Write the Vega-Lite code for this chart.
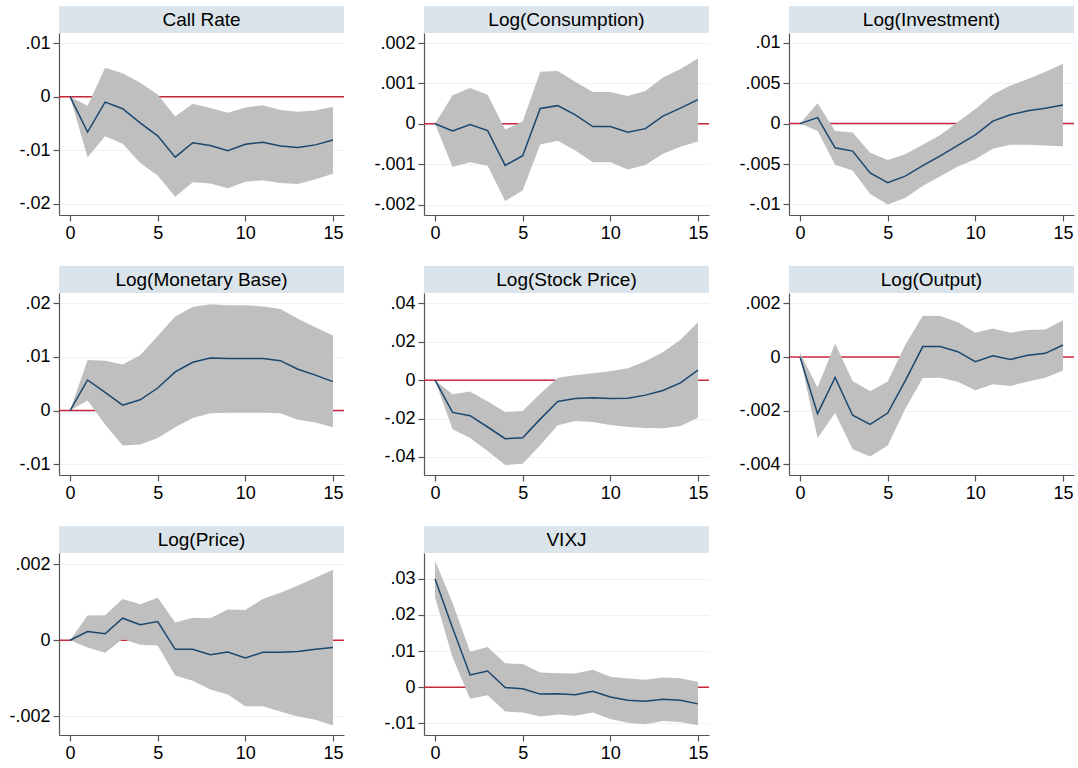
{
  "$schema": "https://vega.github.io/schema/vega-lite/v6.json",
  "padding": {"left": 7, "top": 6, "right": 0, "bottom": 0},
  "background": "white",
  "columns": 3,
  "spacing": {"row": 0, "column": 27},
  "align": "each",
  "bounds": "full",
  "datasets": {
    "cr": [
      {"h":0,"m":0,"lo":0,"hi":0},{"h":1,"m":-0.0066,"lo":-0.0113,"hi":-0.0017},{"h":2,"m":-0.001,"lo":-0.0074,"hi":0.0054},{"h":3,"m":-0.00225,"lo":-0.0088,"hi":0.0044},{"h":4,"m":-0.0049,"lo":-0.0124,"hi":0.0026},{"h":5,"m":-0.0073,"lo":-0.0147,"hi":0.0004},{"h":6,"m":-0.0113,"lo":-0.0187,"hi":-0.0037},{"h":7,"m":-0.0086,"lo":-0.016,"hi":-0.0013},{"h":8,"m":-0.0091,"lo":-0.0162,"hi":-0.0021},{"h":9,"m":-0.0101,"lo":-0.0171,"hi":-0.003},{"h":10,"m":-0.0089,"lo":-0.0159,"hi":-0.002},{"h":11,"m":-0.0085,"lo":-0.0156,"hi":-0.0016},{"h":12,"m":-0.0092,"lo":-0.0161,"hi":-0.0025},{"h":13,"m":-0.0095,"lo":-0.0163,"hi":-0.0028},{"h":14,"m":-0.009,"lo":-0.0154,"hi":-0.0026},{"h":15,"m":-0.0081,"lo":-0.0144,"hi":-0.0019}
    ],
    "cons": [
      {"h":0,"m":0,"lo":0,"hi":0},{"h":1,"m":-0.00018,"lo":-0.00107,"hi":0.00071},{"h":2,"m":-0.00002,"lo":-0.00095,"hi":0.00089},{"h":3,"m":-0.00017,"lo":-0.00104,"hi":0.00072},{"h":4,"m":-0.00103,"lo":-0.00191,"hi":-0.00014},{"h":5,"m":-0.00079,"lo":-0.00165,"hi":0.00006},{"h":6,"m":0.00038,"lo":-0.00051,"hi":0.00129},{"h":7,"m":0.00045,"lo":-0.00042,"hi":0.00131},{"h":8,"m":0.00022,"lo":-0.00066,"hi":0.00104},{"h":9,"m":-0.00007,"lo":-0.00095,"hi":0.00079},{"h":10,"m":-0.00007,"lo":-0.00095,"hi":0.00079},{"h":11,"m":-0.00021,"lo":-0.00113,"hi":0.00069},{"h":12,"m":-0.00012,"lo":-0.00102,"hi":0.00081},{"h":13,"m":0.00019,"lo":-0.00074,"hi":0.00115},{"h":14,"m":0.00039,"lo":-0.00057,"hi":0.00136},{"h":15,"m":0.0006,"lo":-0.00044,"hi":0.00162}
    ],
    "inv": [
      {"h":0,"m":0,"lo":0,"hi":0},{"h":1,"m":0.00074,"lo":-0.0009,"hi":0.0025},{"h":2,"m":-0.003,"lo":-0.0051,"hi":-0.0009},{"h":3,"m":-0.0034,"lo":-0.0058,"hi":-0.0011},{"h":4,"m":-0.0061,"lo":-0.0087,"hi":-0.0036},{"h":5,"m":-0.0073,"lo":-0.01,"hi":-0.0045},{"h":6,"m":-0.0065,"lo":-0.0092,"hi":-0.0038},{"h":7,"m":-0.0052,"lo":-0.0077,"hi":-0.0026},{"h":8,"m":-0.004,"lo":-0.0065,"hi":-0.0014},{"h":9,"m":-0.0027,"lo":-0.0053,"hi":0.0002},{"h":10,"m":-0.0014,"lo":-0.0044,"hi":0.0018},{"h":11,"m":0.0003,"lo":-0.0031,"hi":0.0036},{"h":12,"m":0.0011,"lo":-0.0026,"hi":0.0047},{"h":13,"m":0.0016,"lo":-0.0026,"hi":0.0055},{"h":14,"m":0.0019,"lo":-0.0027,"hi":0.0064},{"h":15,"m":0.0023,"lo":-0.0028,"hi":0.0074}
    ],
    "mb": [
      {"h":0,"m":0,"lo":0,"hi":0},{"h":1,"m":0.0057,"lo":0.0019,"hi":0.0094},{"h":2,"m":0.0034,"lo":-0.0026,"hi":0.0093},{"h":3,"m":0.001,"lo":-0.0065,"hi":0.0086},{"h":4,"m":0.002,"lo":-0.0063,"hi":0.0103},{"h":5,"m":0.0042,"lo":-0.0051,"hi":0.0139},{"h":6,"m":0.0072,"lo":-0.0031,"hi":0.0175},{"h":7,"m":0.009,"lo":-0.0014,"hi":0.0193},{"h":8,"m":0.0098,"lo":-0.0005,"hi":0.0198},{"h":9,"m":0.0097,"lo":-0.0004,"hi":0.0196},{"h":10,"m":0.0097,"lo":-0.0004,"hi":0.0196},{"h":11,"m":0.0097,"lo":-0.0004,"hi":0.0194},{"h":12,"m":0.0093,"lo":-0.0005,"hi":0.0189},{"h":13,"m":0.0077,"lo":-0.0017,"hi":0.0171},{"h":14,"m":0.0066,"lo":-0.0022,"hi":0.0155},{"h":15,"m":0.0054,"lo":-0.0031,"hi":0.014}
    ],
    "sp": [
      {"h":0,"m":0,"lo":0,"hi":0},{"h":1,"m":-0.0168,"lo":-0.0256,"hi":-0.0074},{"h":2,"m":-0.0185,"lo":-0.0301,"hi":-0.0059},{"h":3,"m":-0.0244,"lo":-0.0369,"hi":-0.0111},{"h":4,"m":-0.0305,"lo":-0.0442,"hi":-0.0166},{"h":5,"m":-0.03,"lo":-0.0436,"hi":-0.0161},{"h":6,"m":-0.0203,"lo":-0.0339,"hi":-0.0071},{"h":7,"m":-0.0111,"lo":-0.0235,"hi":0.0012},{"h":8,"m":-0.0095,"lo":-0.0213,"hi":0.0026},{"h":9,"m":-0.0092,"lo":-0.0218,"hi":0.0036},{"h":10,"m":-0.0095,"lo":-0.0234,"hi":0.0047},{"h":11,"m":-0.0094,"lo":-0.0244,"hi":0.0062},{"h":12,"m":-0.0078,"lo":-0.0249,"hi":0.0099},{"h":13,"m":-0.0054,"lo":-0.0251,"hi":0.0145},{"h":14,"m":-0.0014,"lo":-0.0239,"hi":0.0211},{"h":15,"m":0.0052,"lo":-0.0196,"hi":0.0301}
    ],
    "out": [
      {"h":0,"m":0,"lo":0,"hi":0.00015},{"h":1,"m":-0.00211,"lo":-0.00303,"hi":-0.00114},{"h":2,"m":-0.00076,"lo":-0.00209,"hi":0.00051},{"h":3,"m":-0.00217,"lo":-0.00344,"hi":-0.00089},{"h":4,"m":-0.00251,"lo":-0.00371,"hi":-0.00128},{"h":5,"m":-0.00209,"lo":-0.0033,"hi":-0.00091},{"h":6,"m":-0.00089,"lo":-0.00194,"hi":0.00045},{"h":7,"m":0.00039,"lo":-0.00078,"hi":0.00154},{"h":8,"m":0.00039,"lo":-0.00077,"hi":0.00153},{"h":9,"m":0.0002,"lo":-0.00092,"hi":0.0013},{"h":10,"m":-0.00017,"lo":-0.00124,"hi":0.00091},{"h":11,"m":0.00005,"lo":-0.00101,"hi":0.00107},{"h":12,"m":-0.00009,"lo":-0.00108,"hi":0.00091},{"h":13,"m":0.00007,"lo":-0.00091,"hi":0.00101},{"h":14,"m":0.00014,"lo":-0.00077,"hi":0.00103},{"h":15,"m":0.00045,"lo":-0.0005,"hi":0.00137}
    ],
    "pr": [
      {"h":0,"m":0,"lo":0,"hi":0},{"h":1,"m":0.00023,"lo":-0.00019,"hi":0.00065},{"h":2,"m":0.00017,"lo":-0.00033,"hi":0.00066},{"h":3,"m":0.00058,"lo":0.00003,"hi":0.00109},{"h":4,"m":0.00041,"lo":-0.00012,"hi":0.00095},{"h":5,"m":0.00049,"lo":-0.00014,"hi":0.00112},{"h":6,"m":-0.00024,"lo":-0.00093,"hi":0.00047},{"h":7,"m":-0.00024,"lo":-0.00107,"hi":0.00059},{"h":8,"m":-0.00038,"lo":-0.0013,"hi":0.00058},{"h":9,"m":-0.00031,"lo":-0.00143,"hi":0.00081},{"h":10,"m":-0.00047,"lo":-0.00174,"hi":0.0008},{"h":11,"m":-0.00032,"lo":-0.00174,"hi":0.00109},{"h":12,"m":-0.00032,"lo":-0.00188,"hi":0.00125},{"h":13,"m":-0.0003,"lo":-0.00201,"hi":0.00144},{"h":14,"m":-0.00024,"lo":-0.0021,"hi":0.00165},{"h":15,"m":-0.00019,"lo":-0.00225,"hi":0.00186}
    ],
    "vix": [
      {"h":0,"m":0.0299,"lo":0.0249,"hi":0.035},{"h":1,"m":0.0164,"lo":0.0082,"hi":0.0233},{"h":2,"m":0.0034,"lo":-0.0032,"hi":0.0098},{"h":3,"m":0.0045,"lo":-0.0022,"hi":0.0111},{"h":4,"m":-0.0001,"lo":-0.0067,"hi":0.0066},{"h":5,"m":-0.0004,"lo":-0.007,"hi":0.0064},{"h":6,"m":-0.0019,"lo":-0.0081,"hi":0.0041},{"h":7,"m":-0.0018,"lo":-0.0075,"hi":0.0039},{"h":8,"m":-0.0021,"lo":-0.0079,"hi":0.0038},{"h":9,"m":-0.0011,"lo":-0.007,"hi":0.0048},{"h":10,"m":-0.0027,"lo":-0.0088,"hi":0.0029},{"h":11,"m":-0.0036,"lo":-0.0098,"hi":0.0024},{"h":12,"m":-0.0039,"lo":-0.0102,"hi":0.0021},{"h":13,"m":-0.0033,"lo":-0.0093,"hi":0.0027},{"h":14,"m":-0.0036,"lo":-0.0096,"hi":0.0025},{"h":15,"m":-0.0046,"lo":-0.0105,"hi":0.0015}
    ]
  },
  "concat": [
    {"width":285,"height":27,"view":{"fill":"#dae4ea","stroke":null},"data":{"values":[{"t":"Call Rate"}]},"mark":{"type":"text","fontSize":19,"font":"Liberation Sans","color":"#000","baseline":"middle"},"encoding":{"text":{"field":"t"},"x":{"datum":0,"type":"quantitative","scale":{"domain":[-1,1]},"axis":null},"y":{"datum":0,"type":"quantitative","scale":{"domain":[-1,1]},"axis":{"labels":false,"ticks":false,"domain":false,"grid":false,"title":null,"minExtent":52}}}},
    {"width":285,"height":27,"view":{"fill":"#dae4ea","stroke":null},"data":{"values":[{"t":"Log(Consumption)"}]},"mark":{"type":"text","fontSize":19,"font":"Liberation Sans","color":"#000","baseline":"middle"},"encoding":{"text":{"field":"t"},"x":{"datum":0,"type":"quantitative","scale":{"domain":[-1,1]},"axis":null},"y":{"datum":0,"type":"quantitative","scale":{"domain":[-1,1]},"axis":{"labels":false,"ticks":false,"domain":false,"grid":false,"title":null,"minExtent":52}}}},
    {"width":285,"height":27,"view":{"fill":"#dae4ea","stroke":null},"data":{"values":[{"t":"Log(Investment)"}]},"mark":{"type":"text","fontSize":19,"font":"Liberation Sans","color":"#000","baseline":"middle"},"encoding":{"text":{"field":"t"},"x":{"datum":0,"type":"quantitative","scale":{"domain":[-1,1]},"axis":null},"y":{"datum":0,"type":"quantitative","scale":{"domain":[-1,1]},"axis":{"labels":false,"ticks":false,"domain":false,"grid":false,"title":null,"minExtent":52}}}},

    {"width":285,"height":182,"view":{"stroke":null},"layer":[
      {"data":{"values":[{}]},"mark":{"type":"rule","color":"#c8283c","strokeWidth":1.5},"encoding":{"y":{"datum":0,"type":"quantitative"}}},
      {"data":{"name":"cr"},"mark":{"type":"area","color":"#bfbfbf","opacity":1},"encoding":{"x":{"field":"h","type":"quantitative","scale":{"domain":[-0.63,15.63],"nice":false,"zero":false},"axis":{"values":[0,5,10,15],"title":null,"grid":false,"minExtent":51}},"y":{"field":"lo","type":"quantitative","scale":{"domain":[-0.0221,0.0119],"nice":false,"zero":false},"axis":{"values":[-0.02,-0.01,0,0.01],"title":null,"minExtent":52,"labelExpr":"datum.value == 0 ? '0' : (datum.value < 0 ? '-' : '') + replace(format(abs(datum.value), '~g'), '0.', '.')"}},"y2":{"field":"hi"}}},
      {"data":{"name":"cr"},"mark":{"type":"line","color":"#1a476f","strokeWidth":1.5},"encoding":{"x":{"field":"h","type":"quantitative"},"y":{"field":"m","type":"quantitative"}}}
    ]},
    {"width":285,"height":182,"view":{"stroke":null},"layer":[
      {"data":{"values":[{}]},"mark":{"type":"rule","color":"#c8283c","strokeWidth":1.5},"encoding":{"y":{"datum":0,"type":"quantitative"}}},
      {"data":{"name":"cons"},"mark":{"type":"area","color":"#bfbfbf","opacity":1},"encoding":{"x":{"field":"h","type":"quantitative","scale":{"domain":[-0.63,15.63],"nice":false,"zero":false},"axis":{"values":[0,5,10,15],"title":null,"grid":false,"minExtent":51}},"y":{"field":"lo","type":"quantitative","scale":{"domain":[-0.00226,0.00225],"nice":false,"zero":false},"axis":{"values":[-0.002,-0.001,0,0.001,0.002],"title":null,"minExtent":52,"labelExpr":"datum.value == 0 ? '0' : (datum.value < 0 ? '-' : '') + replace(format(abs(datum.value), '~g'), '0.', '.')"}},"y2":{"field":"hi"}}},
      {"data":{"name":"cons"},"mark":{"type":"line","color":"#1a476f","strokeWidth":1.5},"encoding":{"x":{"field":"h","type":"quantitative"},"y":{"field":"m","type":"quantitative"}}}
    ]},
    {"width":285,"height":182,"view":{"stroke":null},"layer":[
      {"data":{"values":[{}]},"mark":{"type":"rule","color":"#c8283c","strokeWidth":1.5},"encoding":{"y":{"datum":0,"type":"quantitative"}}},
      {"data":{"name":"inv"},"mark":{"type":"area","color":"#bfbfbf","opacity":1},"encoding":{"x":{"field":"h","type":"quantitative","scale":{"domain":[-0.63,15.63],"nice":false,"zero":false},"axis":{"values":[0,5,10,15],"title":null,"grid":false,"minExtent":51}},"y":{"field":"lo","type":"quantitative","scale":{"domain":[-0.0113,0.0112],"nice":false,"zero":false},"axis":{"values":[-0.01,-0.005,0,0.005,0.01],"title":null,"minExtent":52,"labelExpr":"datum.value == 0 ? '0' : (datum.value < 0 ? '-' : '') + replace(format(abs(datum.value), '~g'), '0.', '.')"}},"y2":{"field":"hi"}}},
      {"data":{"name":"inv"},"mark":{"type":"line","color":"#1a476f","strokeWidth":1.5},"encoding":{"x":{"field":"h","type":"quantitative"},"y":{"field":"m","type":"quantitative"}}}
    ]},

    {"width":285,"height":27,"view":{"fill":"#dae4ea","stroke":null},"data":{"values":[{"t":"Log(Monetary Base)"}]},"mark":{"type":"text","fontSize":19,"font":"Liberation Sans","color":"#000","baseline":"middle"},"encoding":{"text":{"field":"t"},"x":{"datum":0,"type":"quantitative","scale":{"domain":[-1,1]},"axis":null},"y":{"datum":0,"type":"quantitative","scale":{"domain":[-1,1]},"axis":{"labels":false,"ticks":false,"domain":false,"grid":false,"title":null,"minExtent":52}}}},
    {"width":285,"height":27,"view":{"fill":"#dae4ea","stroke":null},"data":{"values":[{"t":"Log(Stock Price)"}]},"mark":{"type":"text","fontSize":19,"font":"Liberation Sans","color":"#000","baseline":"middle"},"encoding":{"text":{"field":"t"},"x":{"datum":0,"type":"quantitative","scale":{"domain":[-1,1]},"axis":null},"y":{"datum":0,"type":"quantitative","scale":{"domain":[-1,1]},"axis":{"labels":false,"ticks":false,"domain":false,"grid":false,"title":null,"minExtent":52}}}},
    {"width":285,"height":27,"view":{"fill":"#dae4ea","stroke":null},"data":{"values":[{"t":"Log(Output)"}]},"mark":{"type":"text","fontSize":19,"font":"Liberation Sans","color":"#000","baseline":"middle"},"encoding":{"text":{"field":"t"},"x":{"datum":0,"type":"quantitative","scale":{"domain":[-1,1]},"axis":null},"y":{"datum":0,"type":"quantitative","scale":{"domain":[-1,1]},"axis":{"labels":false,"ticks":false,"domain":false,"grid":false,"title":null,"minExtent":52}}}},

    {"width":285,"height":182,"view":{"stroke":null},"layer":[
      {"data":{"values":[{}]},"mark":{"type":"rule","color":"#c8283c","strokeWidth":1.5},"encoding":{"y":{"datum":0,"type":"quantitative"}}},
      {"data":{"name":"mb"},"mark":{"type":"area","color":"#bfbfbf","opacity":1},"encoding":{"x":{"field":"h","type":"quantitative","scale":{"domain":[-0.63,15.63],"nice":false,"zero":false},"axis":{"values":[0,5,10,15],"title":null,"grid":false,"minExtent":51}},"y":{"field":"lo","type":"quantitative","scale":{"domain":[-0.012,0.0219],"nice":false,"zero":false},"axis":{"values":[-0.01,0,0.01,0.02],"title":null,"minExtent":52,"labelExpr":"datum.value == 0 ? '0' : (datum.value < 0 ? '-' : '') + replace(format(abs(datum.value), '~g'), '0.', '.')"}},"y2":{"field":"hi"}}},
      {"data":{"name":"mb"},"mark":{"type":"line","color":"#1a476f","strokeWidth":1.5},"encoding":{"x":{"field":"h","type":"quantitative"},"y":{"field":"m","type":"quantitative"}}}
    ]},
    {"width":285,"height":182,"view":{"stroke":null},"layer":[
      {"data":{"values":[{}]},"mark":{"type":"rule","color":"#c8283c","strokeWidth":1.5},"encoding":{"y":{"datum":0,"type":"quantitative"}}},
      {"data":{"name":"sp"},"mark":{"type":"area","color":"#bfbfbf","opacity":1},"encoding":{"x":{"field":"h","type":"quantitative","scale":{"domain":[-0.63,15.63],"nice":false,"zero":false},"axis":{"values":[0,5,10,15],"title":null,"grid":false,"minExtent":51}},"y":{"field":"lo","type":"quantitative","scale":{"domain":[-0.0494,0.0454],"nice":false,"zero":false},"axis":{"values":[-0.04,-0.02,0,0.02,0.04],"title":null,"minExtent":52,"labelExpr":"datum.value == 0 ? '0' : (datum.value < 0 ? '-' : '') + replace(format(abs(datum.value), '~g'), '0.', '.')"}},"y2":{"field":"hi"}}},
      {"data":{"name":"sp"},"mark":{"type":"line","color":"#1a476f","strokeWidth":1.5},"encoding":{"x":{"field":"h","type":"quantitative"},"y":{"field":"m","type":"quantitative"}}}
    ]},
    {"width":285,"height":182,"view":{"stroke":null},"layer":[
      {"data":{"values":[{}]},"mark":{"type":"rule","color":"#c8283c","strokeWidth":1.5},"encoding":{"y":{"datum":0,"type":"quantitative"}}},
      {"data":{"name":"out"},"mark":{"type":"area","color":"#bfbfbf","opacity":1},"encoding":{"x":{"field":"h","type":"quantitative","scale":{"domain":[-0.63,15.63],"nice":false,"zero":false},"axis":{"values":[0,5,10,15],"title":null,"grid":false,"minExtent":51}},"y":{"field":"lo","type":"quantitative","scale":{"domain":[-0.0044,0.00239],"nice":false,"zero":false},"axis":{"values":[-0.004,-0.002,0,0.002],"title":null,"minExtent":52,"labelExpr":"datum.value == 0 ? '0' : (datum.value < 0 ? '-' : '') + replace(format(abs(datum.value), '~g'), '0.', '.')"}},"y2":{"field":"hi"}}},
      {"data":{"name":"out"},"mark":{"type":"line","color":"#1a476f","strokeWidth":1.5},"encoding":{"x":{"field":"h","type":"quantitative"},"y":{"field":"m","type":"quantitative"}}}
    ]},

    {"width":285,"height":27,"view":{"fill":"#dae4ea","stroke":null},"data":{"values":[{"t":"Log(Price)"}]},"mark":{"type":"text","fontSize":19,"font":"Liberation Sans","color":"#000","baseline":"middle"},"encoding":{"text":{"field":"t"},"x":{"datum":0,"type":"quantitative","scale":{"domain":[-1,1]},"axis":null},"y":{"datum":0,"type":"quantitative","scale":{"domain":[-1,1]},"axis":{"labels":false,"ticks":false,"domain":false,"grid":false,"title":null,"minExtent":52}}}},
    {"width":285,"height":27,"view":{"fill":"#dae4ea","stroke":null},"data":{"values":[{"t":"VIXJ"}]},"mark":{"type":"text","fontSize":19,"font":"Liberation Sans","color":"#000","baseline":"middle"},"encoding":{"text":{"field":"t"},"x":{"datum":0,"type":"quantitative","scale":{"domain":[-1,1]},"axis":null},"y":{"datum":0,"type":"quantitative","scale":{"domain":[-1,1]},"axis":{"labels":false,"ticks":false,"domain":false,"grid":false,"title":null,"minExtent":52}}}},
    {"width":285,"height":27,"view":{"stroke":null},"data":{"values":[]},"mark":"point"},

    {"width":285,"height":182,"view":{"stroke":null},"layer":[
      {"data":{"values":[{}]},"mark":{"type":"rule","color":"#c8283c","strokeWidth":1.5},"encoding":{"y":{"datum":0,"type":"quantitative"}}},
      {"data":{"name":"pr"},"mark":{"type":"area","color":"#bfbfbf","opacity":1},"encoding":{"x":{"field":"h","type":"quantitative","scale":{"domain":[-0.63,15.63],"nice":false,"zero":false},"axis":{"values":[0,5,10,15],"title":null,"grid":false,"minExtent":30}},"y":{"field":"lo","type":"quantitative","scale":{"domain":[-0.0025,0.0023],"nice":false,"zero":false},"axis":{"values":[-0.002,0,0.002],"title":null,"minExtent":52,"labelExpr":"datum.value == 0 ? '0' : (datum.value < 0 ? '-' : '') + replace(format(abs(datum.value), '~g'), '0.', '.')"}},"y2":{"field":"hi"}}},
      {"data":{"name":"pr"},"mark":{"type":"line","color":"#1a476f","strokeWidth":1.5},"encoding":{"x":{"field":"h","type":"quantitative"},"y":{"field":"m","type":"quantitative"}}}
    ]},
    {"width":285,"height":182,"view":{"stroke":null},"layer":[
      {"data":{"values":[{}]},"mark":{"type":"rule","color":"#c8283c","strokeWidth":1.5},"encoding":{"y":{"datum":0,"type":"quantitative"}}},
      {"data":{"name":"vix"},"mark":{"type":"area","color":"#bfbfbf","opacity":1},"encoding":{"x":{"field":"h","type":"quantitative","scale":{"domain":[-0.63,15.63],"nice":false,"zero":false},"axis":{"values":[0,5,10,15],"title":null,"grid":false,"minExtent":30}},"y":{"field":"lo","type":"quantitative","scale":{"domain":[-0.0132,0.0371],"nice":false,"zero":false},"axis":{"values":[-0.01,0,0.01,0.02,0.03],"title":null,"minExtent":52,"labelExpr":"datum.value == 0 ? '0' : (datum.value < 0 ? '-' : '') + replace(format(abs(datum.value), '~g'), '0.', '.')"}},"y2":{"field":"hi"}}},
      {"data":{"name":"vix"},"mark":{"type":"line","color":"#1a476f","strokeWidth":1.5},"encoding":{"x":{"field":"h","type":"quantitative"},"y":{"field":"m","type":"quantitative"}}}
    ]}
  ],
  "config": {
    "font": "Liberation Sans",
    "axis": {"domainColor": "#555555", "tickColor": "#555555", "tickSize": 6, "domainWidth": 1.2, "tickWidth": 1.2, "labelFont": "Liberation Sans", "labelFontSize": 18, "labelColor": "#000000", "labelPadding": 3, "gridColor": "#eaf2f3", "gridWidth": 1.2},
    "axisX": {"grid": false, "labelAngle": 0},
    "axisY": {"grid": true}
  }
}
